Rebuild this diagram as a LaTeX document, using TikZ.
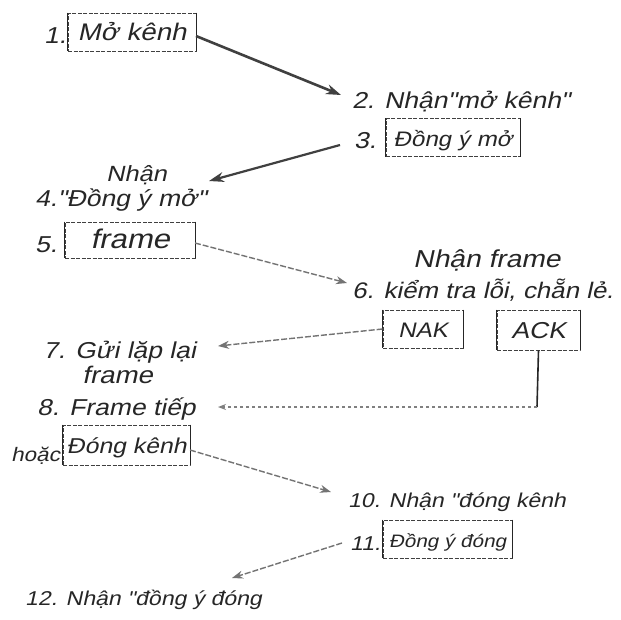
\documentclass[tikz,border=0pt]{standalone}
\usepackage{fontspec}
\newfontfamily\hand{Liberation Sans}[FakeSlant=0.22,FakeStretch=1.15]
\newcommand\hs[1]{\hand\fontsize{#1}{#1}\selectfont}
\usetikzlibrary{arrows.meta}
\begin{document}
\begin{tikzpicture}[x=1pt,y=-1pt,
  every node/.style={font=\hs{23}, text=black!85, inner sep=0pt},
  lbl/.style={anchor=base west},
  pbox/.style={draw=black!75, line width=0.9pt, dash pattern=on 4pt off 1.5pt,
    minimum width=#1, minimum height=38, text height=17, text depth=0},
  side/.style={line width=1.3pt, black!85},
  strong/.style={line width=2.6pt, black!75, -{Stealth[length=15pt,width=10pt]}},
  faint/.style={line width=1.4pt, black!55, dash pattern=on 6pt off 2pt, -{Stealth[length=11pt,width=8pt]}},
  dotline/.style={line width=1.3pt, black!50, dash pattern=on 3pt off 3pt},
]
\useasboundingbox[fill=white] (0,0) rectangle (621,619);

% boxes
\node[pbox=128, font=\hs{24}] (b1) at (132,32) {Mở kênh};
\node[pbox=134, font=\hs{21}] (b3) at (453,137.5) {Đồng ý mở};
\node[pbox=130, minimum height=36, font=\hs{27}] (b5) at (130,240) {frame};
\node[pbox=80, font=\hs{21}] (bnak) at (423,329) {NAK};
\node[pbox=83, minimum height=40, font=\hs{23}] (back) at (538.5,330) {ACK};
\node[pbox=127, minimum height=40, font=\hs{21.5}] (b9) at (126.5,445) {Đóng kênh};
\node[pbox=129, font=\hs{18}] (b11) at (447.5,539) {Đồng ý đóng};
\foreach \b in {b1,b3,b5,bnak,back,b9,b11}
  \draw[side] (\b.north west) -- (\b.south west) (\b.north east) -- (\b.south east);

% texts
\node[lbl] (l1) at (44,43) {1.};
\node[lbl] (t2) at (352,108) {2. Nhận"mở kênh"};
\node[lbl] (l3) at (354,148) {3.};
\node[lbl, font=\hs{22}] (t4a) at (106,181) {Nhận};
\node[lbl] (t4) at (35,206) {4."Đồng ý mở"};
\node[lbl] (l5) at (35,252) {5.};
\node[lbl, font=\hs{24.5}] (t6a) at (413,267) {Nhận frame};
\node[lbl, font=\hs{22.5}] (t6) at (352,298) {6. kiểm tra lỗi, chẵn lẻ.};
\node[lbl] (t7) at (43,358) {7. Gửi lặp lại};
\node[lbl, font=\hs{24}] (t7b) at (82,383) {frame};
\node[lbl] (t8) at (37,415) {8. Frame tiếp};
\node[lbl, font=\hs{19.5}] (t9) at (11,461) {hoặc};
\node[lbl, font=\hs{20}] (t10) at (348,507) {10. Nhận "đóng kênh};
\node[lbl, font=\hs{20}] (l11) at (350,550) {11.};
\node[lbl, font=\hs{20}] (t12) at (25,605) {12. Nhận "đồng ý đóng};

% connectors
\coordinate (a1s) at (196,36);
\coordinate (a1e) at (341,95);
\draw[strong] (a1s) -- (a1e);
\coordinate (a3s) at (340,145);
\coordinate (a3e) at (209,181);
\draw[strong, line width=2.2pt] (a3s) -- (a3e);
\coordinate (a5s) at (195,243);
\coordinate (a5e) at (347,283);
\draw[faint] (a5s) -- (a5e);
\coordinate (anak) at (218,346);
\draw[faint] (bnak.west) -- (anak);
\coordinate (ack1) at (537,407);
\coordinate (ack2) at (218,407);
\draw[side, line width=1.6pt] (back.south) -- (ack1);
\draw[dotline, -{Stealth[length=8pt,width=6pt]}] (ack1) -- (ack2);
\coordinate (a9s) at (190,450);
\coordinate (a9e) at (331,492);
\draw[faint] (a9s) -- (a9e);
\coordinate (a11s) at (342,543);
\coordinate (a11e) at (232,578);
\draw[faint] (a11s) -- (a11e);
\end{tikzpicture}
\end{document}
